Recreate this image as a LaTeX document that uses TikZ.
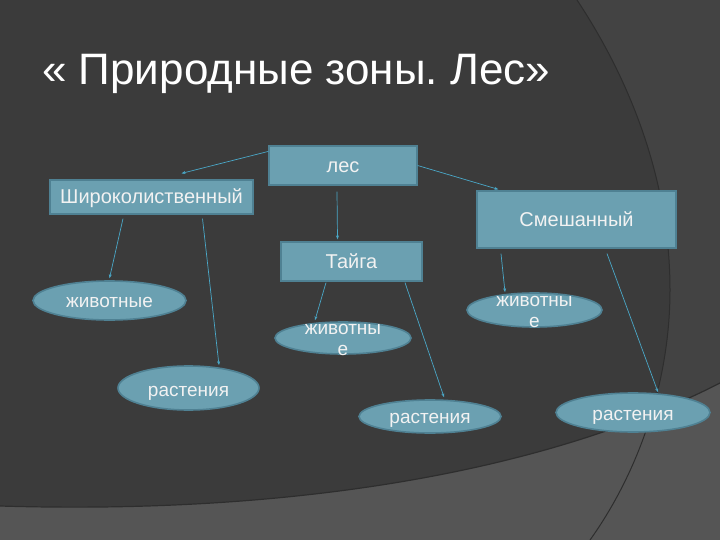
\documentclass[tikz,border=0pt]{standalone}
\usepackage{fontspec}
\setmainfont{Liberation Sans}
\usetikzlibrary{arrows.meta,calc,positioning,shapes.geometric}
\definecolor{panel}{HTML}{3B3B3B}
\definecolor{side}{HTML}{434343}
\definecolor{floor}{HTML}{555555}
\definecolor{edge}{HTML}{2E2E2E}
\definecolor{boxfill}{HTML}{6BA0B1}
\definecolor{boxline}{HTML}{4F8193}
\definecolor{arrowc}{HTML}{4AA8C8}
\frenchspacing

\begin{document}
\begin{tikzpicture}[x=1pt,y=-1pt,
  box/.style={rectangle,draw=boxline,fill=boxfill,line width=1.2pt,text=white!95!black,font=\fontsize{20}{23}\selectfont,inner sep=0pt,text height=14pt,text depth=0pt},
  oval/.style={ellipse,draw=boxline,fill=boxfill,line width=1.6pt,inner sep=0pt},
  ovaltext/.style={anchor=base,text=white!95!black,font=\fontsize{19}{21}\selectfont,align=center,inner sep=0pt},
  arr/.style={draw=arrowc,line width=0.7pt,-{Stealth[length=4pt,width=3pt]}}]
\useasboundingbox (0,0) rectangle (720,540);
\fill[side] (0,0) rectangle (720,540);
\fill[panel] (0,0) -- (577,0) .. controls (630,80) and (670,180) .. (670,290) .. controls (670,380) and (640,470) .. (590,540) -- (0,540) -- cycle;
\fill[floor] (0,506) .. controls (300,515) and (550,470) .. (720,383) -- (720,540) -- (0,540) -- cycle;
\draw[edge,line width=1pt] (577,0) .. controls (630,80) and (670,180) .. (670,290) .. controls (670,380) and (640,470) .. (590,540);
\draw[edge,line width=1.2pt] (0,506) .. controls (300,515) and (550,470) .. (720,383);

\node[anchor=base west,text=white,font=\fontsize{44}{50}\selectfont,inner sep=0pt] (title) at (42,85) {« Природные зоны. Лес»};

\node[box,minimum width=148pt,minimum height=39pt] (les) at (343,165.5) {лес};
\node[box,minimum width=203pt,minimum height=34pt] (shir) at (151.5,197) {Широколиственный};
\node[box,minimum width=199pt,minimum height=57pt] (smesh) at (576.5,219.5) {Смешанный};
\node[box,minimum width=141pt,minimum height=39pt] (taiga) at (351.5,261.5) {Тайга};

\node[oval,minimum width=153pt,minimum height=39pt] (zhL) at (109.5,300.5) {};
\node[ovaltext] (zhLtext) at (109.5,307) {животные};
\node[oval,minimum width=141pt,minimum height=44pt] (rastL) at (188.5,388) {};
\node[ovaltext] (rastLtext) at (188.5,396) {растения};
\node[oval,minimum width=136pt,minimum height=32pt] (zhT) at (343,338) {};
\node[ovaltext] (zhTtext) at (343,355) {животны\\е};
\node[oval,minimum width=142pt,minimum height=33pt] (rastT) at (430,416.5) {};
\node[ovaltext] (rastTtext) at (430,423) {растения};
\node[oval,minimum width=135pt,minimum height=34pt] (zhS) at (534.5,310) {};
\node[ovaltext] (zhStext) at (534.5,327) {животны\\е};
\node[oval,minimum width=154pt,minimum height=39pt] (rastR) at (633,412.5) {};
\node[ovaltext] (rastRtext) at (633,420) {растения};

\draw[arr] ([yshift=-6pt]les.north west) -- ([xshift=30pt,yshift=6pt]shir.north);
\draw[arr] (les.east) -- ([xshift=22pt,yshift=1pt]smesh.north west);
\draw[arr] ([xshift=-6pt,yshift=-6pt]les.south) -- ([xshift=-14pt,yshift=2pt]taiga.north);
\draw[arr] ([xshift=-28.5pt,yshift=-4pt]shir.south) -- ([yshift=2pt]zhL.north);
\draw[arr] ([xshift=51pt,yshift=-4pt]shir.south) -- ([xshift=30.5pt]rastL.north);
\draw[arr] ([xshift=-25.5pt,yshift=-1pt]taiga.south) -- ([xshift=-28pt,yshift=1pt]zhT.north);
\draw[arr] ([xshift=53.5pt,yshift=-1pt]taiga.south) -- ([xshift=14pt,yshift=2pt]rastT.north);
\draw[arr] ([xshift=-75.5pt,yshift=-5pt]smesh.south) -- ([xshift=-29.5pt]zhS.north);
\draw[arr] ([xshift=30.5pt,yshift=-5pt]smesh.south) -- ([xshift=25pt]rastR.north);
\end{tikzpicture}
\end{document}
